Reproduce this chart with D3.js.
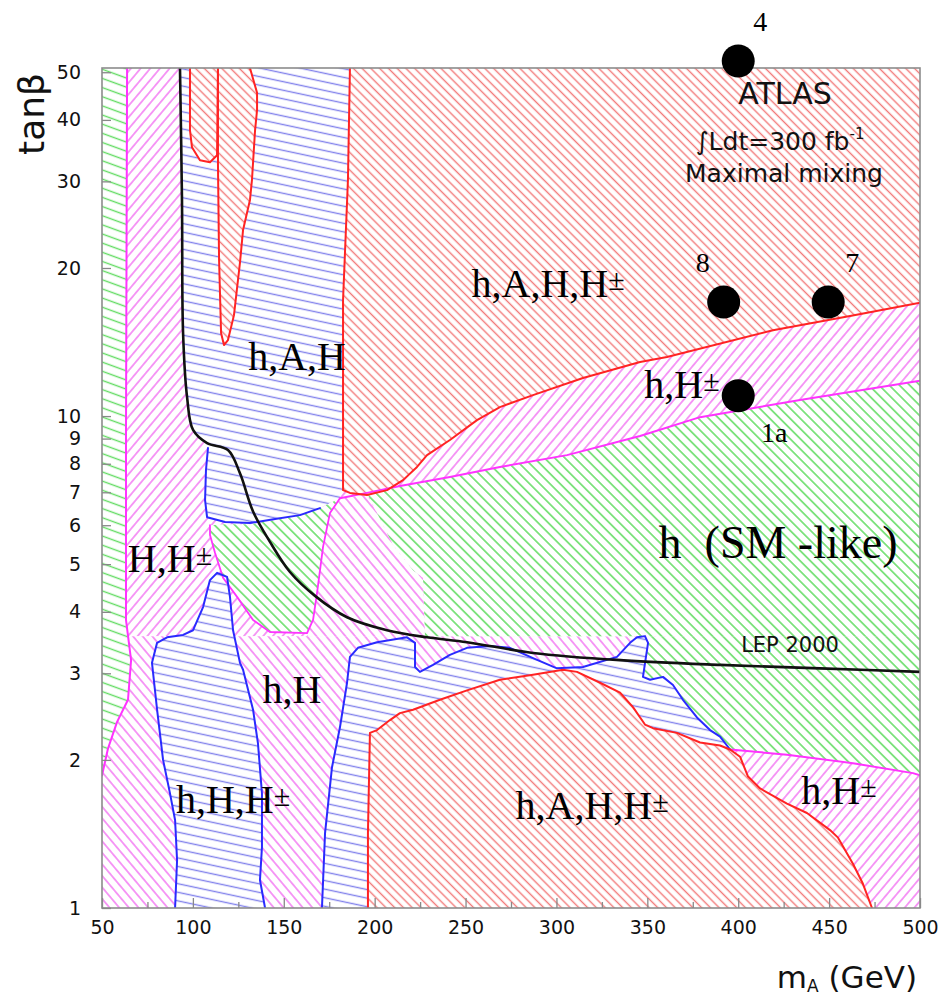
<!DOCTYPE html>
<html>
<head>
<meta charset="utf-8">
<script src="https://cdn.jsdelivr.net/npm/d3@7"></script>
<style>
  html, body { margin: 0; padding: 0; background: #fff; }
  svg { display: block; }
</style>
</head>
<body>
<svg id="chart" width="938" height="1008"></svg>
<script>
// ---- Axis ticks ----------------------------------------------------------
const mATicks = [50, 100, 150, 200, 250, 300, 350, 400, 450, 500];
const mAMinorTicks = [75, 125, 175, 225, 275, 325, 375, 425, 475];
const tanbTicks = [1, 2, 3, 4, 5, 6, 7, 8, 9, 10, 20, 30, 40, 50];

// ---- Discovery regions, points are [mA (GeV), tan(beta)] --------------------
// tan(beta) above / below the LEP 2000 line are two separate scans
const magentaUpper = [[50, 3.57], [50, 51], [500, 51], [500, 3.57]];
const magentaLower = [[50, 1], [50, 3.57], [500, 3.57], [500, 1]];

const greenStrip = [[50, 51], [63.8, 51], [63.2, 9.4], [63.2, 3.85], [66.0, 3.19], [64.3, 2.65],
  [58.3, 2.39], [53.3, 2.11], [50, 1.86]];

const magentaPocketSide = [[180.9, 6.81], [195.8, 6.91], [201.3, 6.35], [210.1, 5.47], [221.1, 4.86],
  [226.6, 4.69], [227.7, 3.57], [162.8, 3.57], [162.8, 3.62], [166.1, 3.85], [168.3, 4.37],
  [171.6, 5.42], [175.4, 6.35]];

const greenBig = [[195.8, 6.98], [213.9, 7.21], [241.4, 7.52], [268.9, 7.88], [305.8, 8.33],
  [346.0, 9.11], [379.0, 9.95], [434.0, 10.78], [500, 11.8], [500, 3.57], [227.7, 3.57],
  [226.6, 4.69], [221.1, 4.86], [210.1, 5.47], [201.3, 6.35]];

const redTop = [[186.4, 51], [500, 51], [500, 17.0], [461.5, 15.97], [419.1, 14.95], [360.8, 13.18],
  [346.0, 12.88], [314.6, 11.95], [287.1, 11.03], [268.9, 10.43], [256.3, 9.81], [241.4, 8.94],
  [228.8, 8.33], [223.3, 7.88], [215.6, 7.41], [206.8, 7.07], [195.8, 6.91], [186.4, 6.98],
  [182.6, 7.07], [182.6, 17.2], [185.3, 30.2]];

const blueTop = [[92.9, 51], [186.4, 51], [185.3, 30.2], [182.6, 17.2], [182.6, 7.07], [180.9, 6.81],
  [169.9, 6.50], [158.9, 6.29], [145.2, 6.18], [131.4, 6.06], [117.7, 6.09], [107.8, 6.23],
  [106.7, 6.75], [107.2, 7.77], [108.3, 8.61], [107.8, 8.81], [100.1, 9.37], [96.8, 10.93],
  [94.6, 14.75], [94.0, 27.5]];

const greenPocket = [[109.4, 6.0], [117.7, 6.03], [131.4, 6.03], [145.2, 6.15], [158.9, 6.29],
  [169.9, 6.5], [180.9, 6.81], [175.4, 6.35], [171.6, 5.42], [168.3, 4.37], [166.1, 3.85],
  [162.8, 3.62], [142.4, 3.64], [133.1, 3.85], [124.3, 4.29], [116.6, 4.69], [112.2, 5.27],
  [109.4, 5.73]];

const redLoop = [[98.4, 51], [98.4, 38.1], [99.5, 35.2], [103.9, 33.1], [109.4, 32.8], [113.3, 33.9],
  [113.8, 51]];

const redTongue = [[113.8, 51], [113.8, 32.4], [114.4, 20.8], [115.5, 14.75], [117.1, 13.94],
  [119.3, 14.27], [122.6, 16.04], [125.9, 20.5], [127.6, 23.9], [131.4, 27.5], [132.5, 30.2],
  [134.2, 38.1], [135.3, 41.9], [135.3, 45.4], [131.4, 51]];

const greenLower = [[348.7, 3.57], [500, 3.57], [500, 1.86], [496.1, 1.88], [463.1, 1.97],
  [426.8, 2.05], [395.5, 2.10], [390.0, 2.23], [384.5, 2.30], [377.3, 2.44], [369.6, 2.65],
  [364.1, 2.84], [358.6, 2.95], [351.5, 2.91], [347.6, 2.95], [350.4, 3.46]];

const blueCol2 = [[171.0, 1], [172.7, 1.42], [176.5, 1.93], [180.9, 2.33], [184.8, 2.87], [186.4, 3.24],
  [190.8, 3.38], [201.3, 3.47], [217.8, 3.55], [222.2, 3.46], [222.2, 3.09], [224.9, 3.02],
  [232.1, 3.12], [241.4, 3.27], [250.8, 3.38], [263.4, 3.41], [274.4, 3.38], [287.1, 3.22],
  [300.3, 3.07], [314.6, 3.09], [333.3, 3.24], [340.5, 3.46], [344.3, 3.55], [348.7, 3.57],
  [350.4, 3.46], [347.6, 2.95], [351.5, 2.91], [358.6, 2.95], [364.1, 2.84], [369.6, 2.65],
  [377.3, 2.44], [384.5, 2.30], [390.0, 2.23], [395.5, 2.10]];

const magentaBR = [[395.5, 2.10], [426.8, 2.05], [463.1, 1.97], [496.1, 1.88], [500, 1.86], [500, 1],
  [473.6, 1], [468.6, 1.12], [463.1, 1.23], [454.9, 1.39], [450.5, 1.44], [437.8, 1.56],
  [426.8, 1.63], [412.0, 1.75], [405.4, 1.85], [401.0, 2.03]];

const redBottom = [[196.3, 1], [196.3, 1.42], [197.4, 2.27], [201.3, 2.30], [208.4, 2.41], [213.9, 2.49],
  [221.1, 2.53], [235.9, 2.65], [250.8, 2.77], [268.9, 2.91], [287.1, 2.98], [303.6, 3.05],
  [311.3, 3.02], [324.0, 2.87], [335.0, 2.74], [342.1, 2.56], [348.7, 2.36], [353.1, 2.32],
  [366.3, 2.27], [379.0, 2.17], [390.0, 2.14], [395.5, 2.10], [401.0, 2.03], [405.4, 1.85],
  [412.0, 1.75], [426.8, 1.63], [437.8, 1.56], [450.5, 1.44], [454.9, 1.39], [463.1, 1.23],
  [468.6, 1.12], [473.6, 1]];

const blueCol1 = [[90.2, 1], [91.3, 1.25], [90.2, 1.51], [87.4, 1.71], [83.6, 2.0], [80.3, 2.53],
  [77.5, 3.15], [80.3, 3.46], [85.8, 3.55], [94.6, 3.59], [100.1, 3.67], [105.6, 4.09],
  [109.4, 4.64], [113.3, 4.80], [118.8, 4.71], [120.4, 4.29], [122.1, 3.67], [125.9, 3.15],
  [127.6, 3.05], [133.1, 2.53], [135.8, 2.16], [138.0, 1.71], [138.0, 1.33], [136.9, 1.14],
  [139.7, 1]];

// LEP 2000 exclusion limit
const lepCurve = [[92.9, 51], [94.0, 27.5], [94.6, 14.75], [96.8, 10.93], [100.1, 9.37], [107.8, 8.81],
  [119.3, 8.53], [125.9, 7.65], [133.1, 6.4], [142.4, 5.55], [153.4, 4.82], [167.2, 4.31],
  [184.8, 3.90], [206.8, 3.67], [228.8, 3.55], [250.8, 3.47], [287.1, 3.30], [335.0, 3.19],
  [390.0, 3.12], [445.0, 3.07], [500, 3.02]];

// ---- Region names and benchmark points --------------------------------------
const regionNames = ["h,A,H,H\u00B1", "h,A,H", "h,H\u00B1", "h  (SM -like)", "H,H\u00B1", "h,H",
  "h,H,H\u00B1", "h,A,H,H\u00B1", "h,H\u00B1"];
const regionNameMA = [295.4, 157.3, 369.1, 421.9, 87.4, 154.5, 122.1, 319.6, 455.4];
const regionNameTB = [17.5, 12.4, 10.86, 5.14, 4.82, 2.61, 1.56, 1.52, 1.63];

const benchmarkNames = ["4", "8", "7", "1a"];
const benchmarkMA = [400, 392, 449.5, 400];
const benchmarkTB = [52.7, 17.05, 17.05, 11.0];

// ---- Scales ----------------------------------------------------------------
const x = d3.scaleLinear().domain([50, 500]).range([102, 920]);
const y = d3.scaleLog().domain([1, 51]).range([908, 68]);

const svg = d3.select("#chart");
const defs = svg.append("defs");

defs.append("clipPath").attr("id", "plotClip")
  .append("rect")
  .attr("x", x(50)).attr("y", y(51))
  .attr("width", x(500) - x(50)).attr("height", y(1) - y(51));

// hatch fills: white tile with one line, rotated
function hatch(id, color, angle, spacing, width) {
  const p = defs.append("pattern")
    .attr("id", id)
    .attr("patternUnits", "userSpaceOnUse")
    .attr("width", spacing).attr("height", spacing)
    .attr("patternTransform", `rotate(${angle})`);
  p.append("rect").attr("width", spacing).attr("height", spacing).attr("fill", "#fff");
  p.append("line")
    .attr("x1", -1).attr("x2", spacing + 1)
    .attr("y1", spacing / 2).attr("y2", spacing / 2)
    .attr("stroke", color).attr("stroke-width", width);
}
hatch("hRed", "#f27a7a", 45, 6.2, 1.4);
hatch("hMagF", "#f37cf3", -50, 7.4, 1.5);
hatch("hMagB", "#f37cf3", 50, 7.4, 1.5);
hatch("hGreen", "#62dc62", 45, 7.2, 1.5);
hatch("hBlue", "#8282ec", 12, 8.4, 1.4);
hatch("hGreenStrip", "#62dc62", 20, 8.6, 1.4);

const poly = d3.line().x(d => x(d[0])).y(d => y(d[1]));
const smooth = d3.line().x(d => x(d[0])).y(d => y(d[1])).curve(d3.curveCatmullRom.alpha(0.5));

const plot = svg.append("g").attr("clip-path", "url(#plotClip)");

function fillRegion(pts, pat) {
  plot.append("path").attr("d", poly(pts) + "Z").attr("fill", `url(#${pat})`).attr("stroke", "none");
}

// filled regions, back to front
fillRegion(magentaUpper, "hMagF");
fillRegion(magentaLower, "hMagB");
fillRegion(magentaPocketSide, "hMagB");
fillRegion(greenBig, "hGreen");
fillRegion(redTop, "hRed");
fillRegion(blueTop, "hBlue");
fillRegion(greenPocket, "hGreen");
fillRegion(redLoop, "hRed");
fillRegion(redTongue, "hRed");
fillRegion(greenLower, "hGreen");
fillRegion(blueCol2.concat([[196.3, 1]]), "hBlue");
fillRegion(magentaBR, "hMagF");
fillRegion(redBottom, "hRed");
fillRegion(blueCol1, "hBlue");
fillRegion(greenStrip, "hGreenStrip");

// region outlines
function outline(pts, color, w) {
  plot.append("path").attr("d", poly(pts)).attr("fill", "none")
    .attr("stroke", color).attr("stroke-width", w)
    .attr("stroke-linejoin", "round").attr("stroke-linecap", "round");
}
const RED = "#ff2323", BLUE = "#2a2aff", MAG = "#ff33ff";

outline(greenStrip.slice(1), MAG, 2);
outline([[180.9, 6.81]].concat(greenBig.slice(0, 9)), MAG, 2);
outline(greenPocket.slice(6).concat([greenPocket[0]]), MAG, 1.8);
outline(magentaBR.slice(0, 5), MAG, 2);

outline(blueTop.slice(6, 15), BLUE, 2);
outline(blueCol1, BLUE, 2);
outline(blueCol2, BLUE, 2);

outline(redTop.slice(2).concat([redTop[0]]), RED, 2);
outline(redLoop, RED, 2);
outline(redTongue, RED, 2);
outline(redBottom, RED, 2);

// LEP 2000 limit
plot.append("path").attr("d", smooth(lepCurve)).attr("fill", "none")
  .attr("stroke", "#111").attr("stroke-width", 2.6);

// ---- Frame and axes ------------------------------------------------------------
const FONT = "'DejaVu Sans', sans-serif";
const SERIF = "'Liberation Serif', 'Times New Roman', serif";

svg.append("rect")
  .attr("x", x(50)).attr("y", y(51))
  .attr("width", x(500) - x(50)).attr("height", y(1) - y(51))
  .attr("fill", "none").attr("stroke", "#8c8c8c").attr("stroke-width", 1.6);

function styleAxis(g) {
  g.select(".domain").remove();
  g.selectAll(".tick line").attr("stroke", "#888").attr("stroke-width", 1.3);
  g.selectAll(".tick text").attr("fill", "#111").style("font-family", FONT).style("font-size", "19px");
}

svg.append("g").attr("transform", `translate(0,${y(1)})`)
  .call(d3.axisBottom(x).tickValues(mATicks).tickSize(-10).tickPadding(13).tickFormat(d3.format("d")))
  .call(styleAxis);
svg.append("g").attr("transform", `translate(0,${y(1)})`)
  .call(d3.axisBottom(x).tickValues(mAMinorTicks).tickSize(-6).tickFormat(""))
  .call(styleAxis);
svg.append("g").attr("transform", `translate(${x(50)},0)`)
  .call(d3.axisLeft(y).tickValues(tanbTicks).tickSize(-9).tickPadding(21).tickFormat(d3.format("d")))
  .call(styleAxis);

// axis titles
svg.append("text")
  .attr("transform", "translate(44,114) rotate(-90)")
  .attr("text-anchor", "middle")
  .style("font-family", FONT).style("font-size", "36px").attr("fill", "#111")
  .text("tan\u03B2");

const xt = svg.append("text")
  .attr("x", 917).attr("y", 988).attr("text-anchor", "end")
  .style("font-family", FONT).style("font-size", "31px").attr("fill", "#111");
xt.append("tspan").text("m");
xt.append("tspan").attr("font-size", "17px").attr("dy", 4).text("A");
xt.append("tspan").attr("dy", -4).text(" (GeV)");

// ---- Annotations --------------------------------------------------------------
const note = svg.append("g").style("font-family", FONT).attr("fill", "#111").attr("text-anchor", "middle");
note.append("text").attr("x", 785).attr("y", 104).style("font-size", "30px").text("ATLAS");
const lumi = note.append("text").attr("x", 780).attr("y", 150).style("font-size", "25px");
lumi.append("tspan").text("\u222BLdt=300 fb");
lumi.append("tspan").attr("font-size", "15px").attr("dy", -11).text("-1");
note.append("text").attr("x", 784).attr("y", 182).style("font-size", "25px").text("Maximal mixing");
note.append("text").attr("x", x(428.5)).attr("y", y(3.31)).style("font-size", "21px").text("LEP 2000");

// region names; the charge sign is set smaller and raised
const names = svg.append("g").selectAll("text")
  .data(regionNames.map((t, i) => ({ t, m: regionNameMA[i], tb: regionNameTB[i] })))
  .join("text")
  .attr("x", d => x(d.m)).attr("y", d => y(d.tb))
  .attr("text-anchor", "middle")
  .attr("xml:space", "preserve")
  .style("white-space", "pre")
  .style("font-family", SERIF)
  .style("font-size", d => d.t.startsWith("h  (") ? "46px" : "40px")
  .attr("fill", "#000");
names.each(function (d) {
  const el = d3.select(this);
  const pm = d.t.indexOf("\u00B1");
  if (pm < 0) { el.text(d.t); return; }
  el.append("tspan").text(d.t.slice(0, pm));
  el.append("tspan").attr("font-size", "30px").attr("dy", -7).text("\u00B1");
});

// benchmark points
const bm = benchmarkNames.map((n, i) => ({ n, m: benchmarkMA[i], tb: benchmarkTB[i] }));
const labelOffset = { "4": [22, -39], "8": [-21, -40], "7": [24, -40], "1a": [36, 37] };
svg.append("g").selectAll("circle").data(bm).join("circle")
  .attr("cx", d => x(d.m)).attr("cy", d => y(d.tb)).attr("r", 16.5).attr("fill", "#000");
svg.append("g").selectAll("text").data(bm).join("text")
  .attr("x", d => x(d.m) + labelOffset[d.n][0])
  .attr("y", d => y(d.tb) + labelOffset[d.n][1])
  .attr("text-anchor", "middle").attr("dominant-baseline", "central")
  .style("font-family", SERIF).style("font-size", "28px").attr("fill", "#000")
  .text(d => d.n);
</script>
</body>
</html>
